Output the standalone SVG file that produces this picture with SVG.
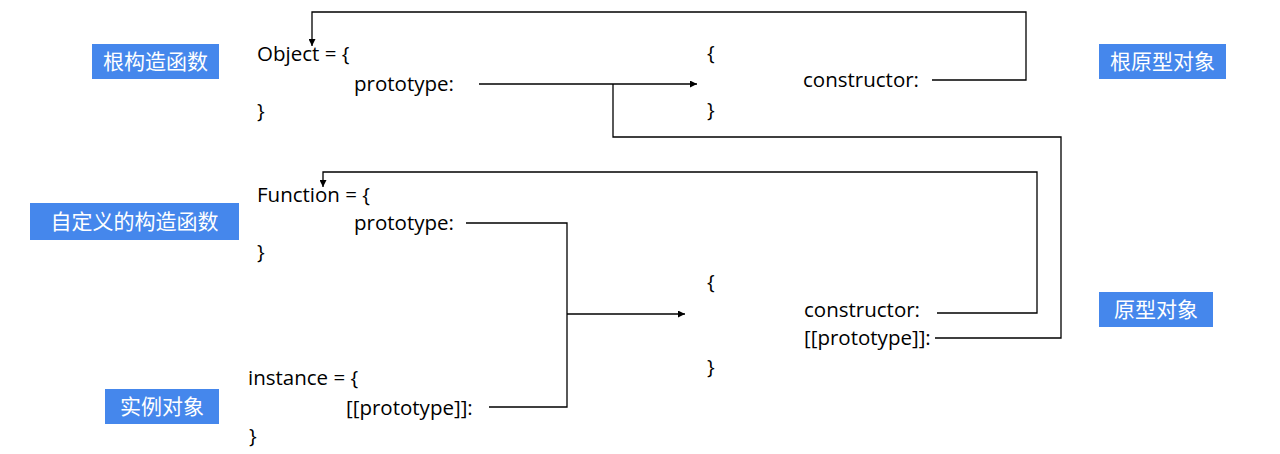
<svg xmlns="http://www.w3.org/2000/svg" width="1280" height="454" viewBox="0 0 1280 454">
<defs>
<marker id="arr" viewBox="0 0 10 10" refX="10" refY="5" markerWidth="9" markerHeight="7" markerUnits="userSpaceOnUse" orient="auto">
<path d="M0,0 L10,5 L0,10 z" fill="#000"/>
</marker>
<style>
.code{font-family:"Open Sans","Noto Sans","Liberation Sans",sans-serif;font-size:20.5px;fill:#000}
.lbl{font-family:"Noto Sans CJK SC","Noto Sans",sans-serif;font-size:21px;fill:#fff;text-anchor:middle}
.box{fill:#4587ec}
.ln{fill:none;stroke:#000;stroke-width:1.3}
</style>
</defs>
<rect width="1280" height="454" fill="#fff"/>

<g id="label-root-ctor"><rect class="box" x="92" y="44" width="127" height="35"/><text class="lbl" x="155.5" y="69">根构造函数</text></g>
<g id="label-custom-ctor"><rect class="box" x="30" y="203" width="209" height="37"/><text class="lbl" x="134.5" y="229">自定义的构造函数</text></g>
<g id="label-instance"><rect class="box" x="105" y="389" width="114" height="35"/><text class="lbl" x="162" y="414">实例对象</text></g>
<g id="label-root-proto"><rect class="box" x="1099" y="44" width="127" height="35"/><text class="lbl" x="1162.5" y="69">根原型对象</text></g>
<g id="label-proto"><rect class="box" x="1099" y="292" width="114" height="35"/><text class="lbl" x="1156" y="317">原型对象</text></g>

<g id="node-object">
<text class="code" x="257" y="61">Object = {</text>
<text class="code" x="354" y="91">prototype:</text>
<text class="code" x="257" y="118">}</text>
</g>
<g id="node-root-proto">
<text class="code" x="707" y="60">{</text>
<text class="code" x="803" y="87">constructor:</text>
<text class="code" x="707" y="117">}</text>
</g>
<g id="node-function">
<text class="code" x="257" y="202">Function = {</text>
<text class="code" x="354" y="230">prototype:</text>
<text class="code" x="257" y="259">}</text>
</g>
<g id="node-instance">
<text class="code" x="248" y="385">instance = {</text>
<text class="code" x="346" y="415">[[prototype]]:</text>
<text class="code" x="249" y="443">}</text>
</g>
<g id="node-proto">
<text class="code" x="707" y="289">{</text>
<text class="code" x="804" y="317">constructor:</text>
<text class="code" x="804" y="345">[[prototype]]:</text>
<text class="code" x="707" y="374">}</text>
</g>

<g id="connectors">
<path class="ln" d="M932,80 H1026 V12 H312 V46" marker-end="url(#arr)"/>
<path class="ln" d="M479,84 H697" marker-end="url(#arr)"/>
<path class="ln" d="M935,338 H1061 V137 H613 V84"/>
<path class="ln" d="M937,313 H1037 V172 H323 V187" marker-end="url(#arr)"/>
<path class="ln" d="M466,223 H567 V407 H489"/>
<path class="ln" d="M567,314 H685" marker-end="url(#arr)"/>
</g>
</svg>
